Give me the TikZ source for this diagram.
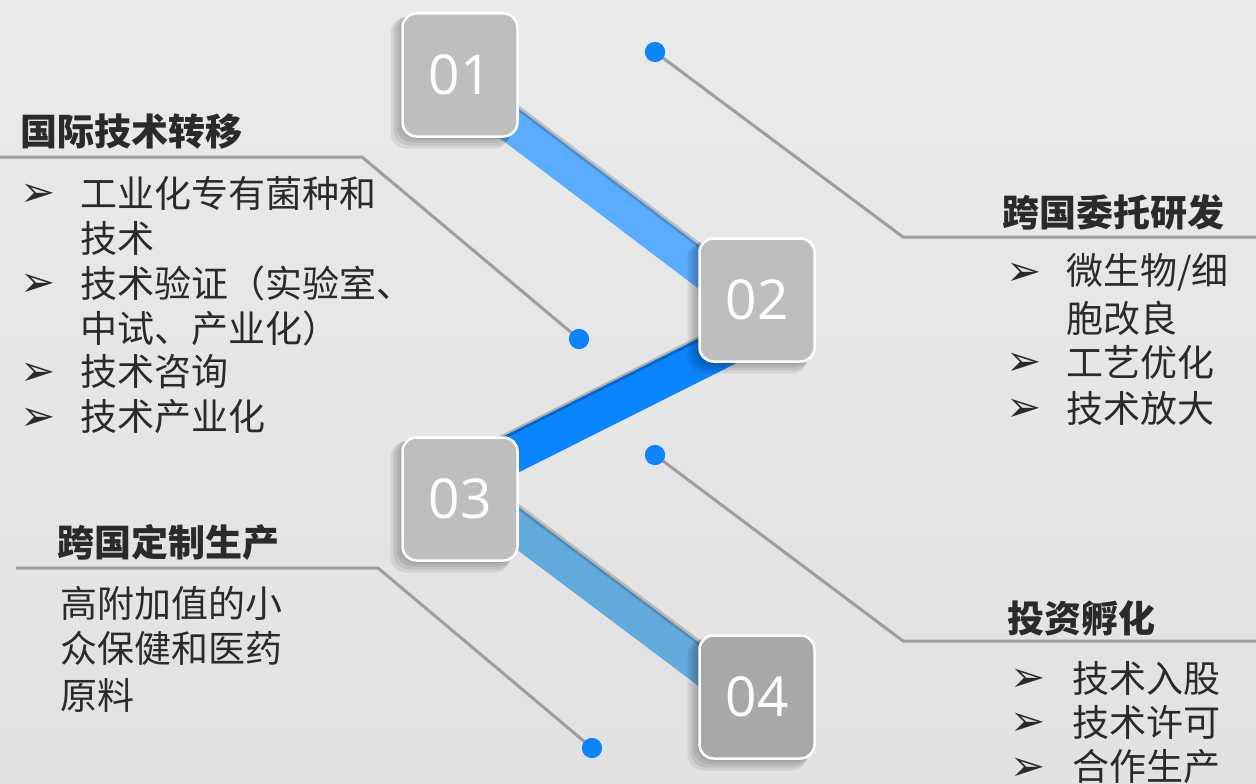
\documentclass[tikz,border=0pt]{standalone}
\usepackage{fontspec}
\setmainfont{Noto Sans CJK SC}
\newfontfamily\numfont{Open Sans}
\newfontfamily\symfont{DejaVu Sans}
\usetikzlibrary{calc}
\definecolor{bgtop}{HTML}{EAEAEA}
\definecolor{bgbot}{HTML}{E2E2E2}
\definecolor{txt}{HTML}{2A2A2A}
\definecolor{boxa}{HTML}{BEBEBE}
\definecolor{boxb}{HTML}{A8A8A8}
\definecolor{barone}{HTML}{5AACFF}
\definecolor{bartwo}{HTML}{0A84FF}
\definecolor{barthree}{HTML}{62A9DC}
\definecolor{dotc}{HTML}{0A84FF}
\definecolor{leader}{HTML}{9E9E9E}
\tikzset{
  numbox/.style={rounded corners=14pt, draw=white, line width=2.5pt, fill=boxa,
     minimum width=115pt, minimum height=123pt, inner sep=0pt, text=white,
     font=\numfont\fontsize{55}{55}\selectfont},
  shadowbox/.style={rounded corners=16pt, fill=black, opacity=0.08},
  dotnode/.style={circle, fill=dotc, minimum size=20pt, inner sep=0pt},
  leaderline/.style={draw=leader, line width=3pt},
  titletext/.style={anchor=west, inner sep=0pt, text=txt, font=\fontsize{37}{37}\selectfont\bfseries},
  bodytext/.style={anchor=west, inner sep=0pt, text=txt, font=\fontsize{37}{37}\selectfont},
  bullettext/.style={anchor=west, inner sep=0pt, text=txt, font=\symfont\fontsize{42}{42}\selectfont},
}
\begin{document}
\begin{tikzpicture}[x=1pt,y=-1pt]
\useasboundingbox (0,0) rectangle (1256,784);
\shade[top color=bgtop, bottom color=bgbot] (0,0) rectangle (1256,784);

% centres of the numbered boxes
\coordinate (c1) at (460,75);
\coordinate (c2) at (757,300);
\coordinate (c3) at (460,499);
\coordinate (c4) at (757,697);

% bars
\draw[line width=35pt, barone] ($(c1)+(0,11)$) coordinate (s1) -- ($(c2)+(0,11)$) coordinate (e1);
\draw[line width=5pt, black, opacity=0.18] ($(c1)+(8,-5)$) -- ($(c2)+(8,-5)$);
\draw[line width=39pt, bartwo] ($(c3)+(0,-19)$) -- ($(c2)+(0,31)$);
\draw[line width=5pt, black, opacity=0.22] ($(c3)+(-5,-38)$) -- ($(c2)+(-5,12)$);
\draw[line width=35pt, barthree] ($(c3)+(0,-14)$) -- ($(c4)+(0,11)$);
\draw[line width=5pt, black, opacity=0.18] ($(c3)+(8,-30)$) -- ($(c4)+(8,-5)$);

% box shadows
\foreach \c in {c1,c2,c3,c4}{
  \foreach \s in {3,6,9,12}{
    \fill[shadowbox] ($(\c)+(-57.5-\s,-61.5+\s*0.3)$) rectangle ($(\c)+(57.5-\s*0.6,61.5+\s)$);
  }
}

% numbered boxes
\node[numbox] (b1) at (c1) {01};
\node[numbox] (b2) at (c2) {02};
\node[numbox] (b3) at (c3) {03};
\node[numbox, fill=boxb] (b4) at (c4) {04};

% leader lines and dots
\node[dotnode] (d1) at (579,339) {};
\coordinate (k1) at (362,157);
\coordinate (h1) at (0,157);
\draw[leaderline] (h1) -- (k1) -- (d1.center);

\node[dotnode] (d2) at (655,52) {};
\coordinate (k2) at (903,237);
\coordinate (h2) at (1256,237);
\draw[leaderline] (d2.center) -- (k2) -- (h2);

\node[dotnode] (d3) at (655,455) {};
\coordinate (k3) at (903,641);
\coordinate (h3) at (1256,641);
\draw[leaderline] (d3.center) -- (k3) -- (h3);

\node[dotnode] (d4) at (592,748) {};
\coordinate (k4) at (378,568);
\coordinate (h4) at (16,568);
\draw[leaderline] (h4) -- (k4) -- (d4.center);
\node[dotnode] at (d1) {};
\node[dotnode] at (d2) {};
\node[dotnode] at (d3) {};
\node[dotnode] at (d4) {};

% left top block
\node[titletext] (t1) at (20,132) {国际技术转移};
\node[bullettext] (p1a) at (20,195) {➢};
\node[bullettext] (p1b) at (20,285) {➢};
\node[bullettext] (p1c) at (20,374) {➢};
\node[bullettext] (p1d) at (20,419) {➢};
\node[bodytext] (l1a) at (80,193) {工业化专有菌种和};
\node[bodytext] (l1b) at (80,238) {技术};
\node[bodytext] (l1c) at (80,283) {技术验证（实验室、};
\node[bodytext] (l1d) at (80,328) {中试、产业化）};
\node[bodytext] (l1e) at (80,372) {技术咨询};
\node[bodytext] (l1f) at (80,417) {技术产业化};

% right top block
\node[titletext] (t2) at (1002,212) {跨国委托研发};
\node[bullettext] (p2a) at (1006,274) {➢};
\node[bullettext] (p2b) at (1006,364) {➢};
\node[bullettext] (p2c) at (1006,410) {➢};
\node[bodytext] (l2a) at (1066,272) {微生物/细};
\node[bodytext] (l2b) at (1066,318) {胞改良};
\node[bodytext] (l2c) at (1066,362) {工艺优化};
\node[bodytext] (l2d) at (1066,408) {技术放大};

% left bottom block
\node[titletext] (t3) at (57,542) {跨国定制生产};
\node[bodytext] (l3a) at (60,603) {高附加值的小};
\node[bodytext] (l3b) at (60,648) {众保健和医药};
\node[bodytext] (l3c) at (60,695) {原料};

% right bottom block
\node[titletext] (t4) at (1007,618) {投资孵化};
\node[bullettext] (p4a) at (1010,680) {➢};
\node[bullettext] (p4b) at (1010,724) {➢};
\node[bullettext] (p4c) at (1010,769) {➢};
\node[bodytext] (l4a) at (1072,678) {技术入股};
\node[bodytext] (l4b) at (1072,722) {技术许可};
\node[bodytext] (l4c) at (1072,767) {合作生产};
\end{tikzpicture}
\end{document}
